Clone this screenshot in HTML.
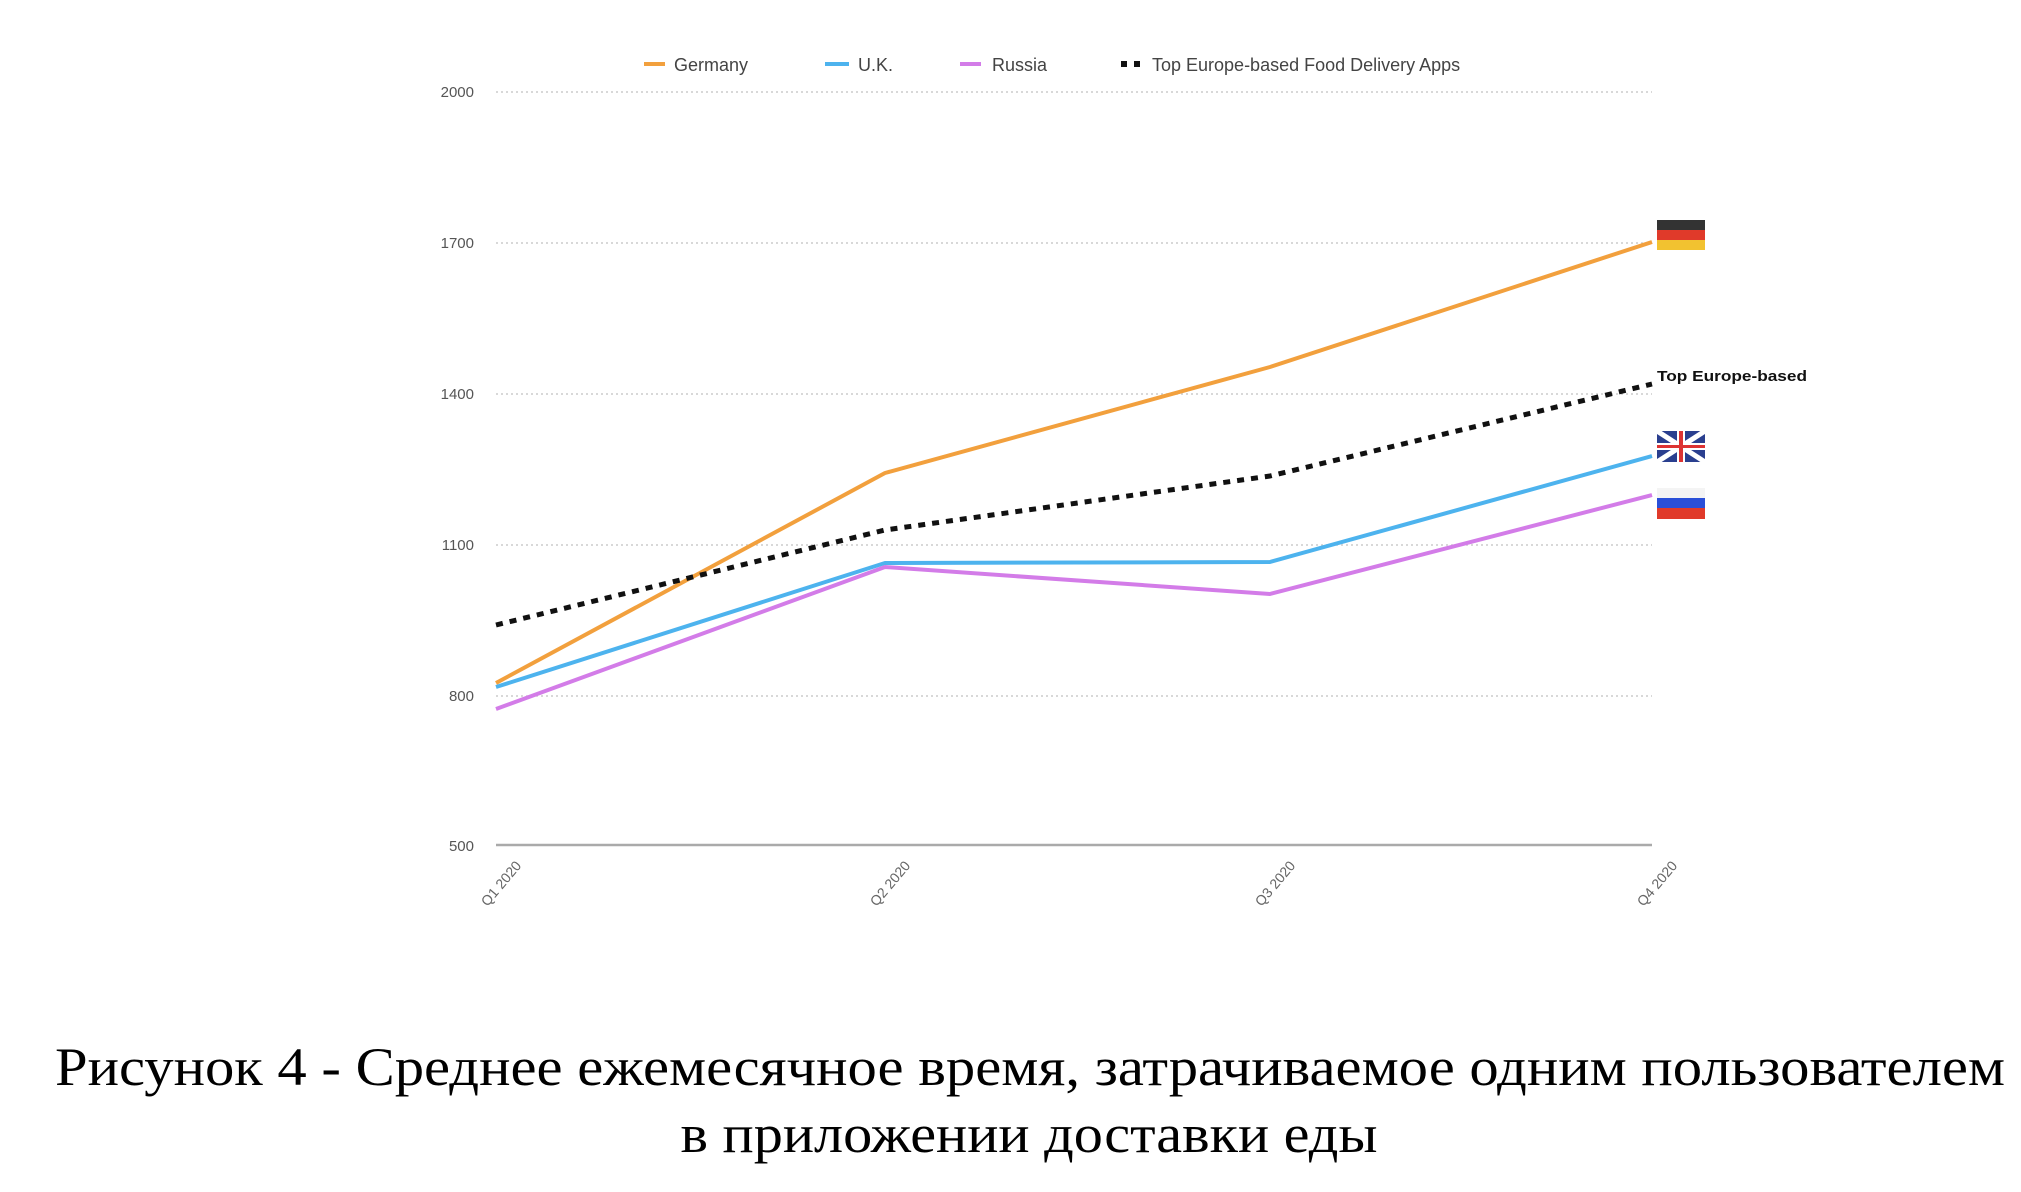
<!DOCTYPE html>
<html><head><meta charset="utf-8"><style>html,body{margin:0;padding:0;background:#fff}</style></head>
<body>
<svg width="2021" height="1187" viewBox="0 0 2021 1187" xmlns="http://www.w3.org/2000/svg" font-family="Liberation Sans, sans-serif">
<rect width="2021" height="1187" fill="#fff"/>
<g stroke="#ccc" stroke-width="1.5" stroke-dasharray="2,3">
<line x1="496" y1="92" x2="1652" y2="92"/>
<line x1="496" y1="243" x2="1652" y2="243"/>
<line x1="496" y1="394" x2="1652" y2="394"/>
<line x1="496" y1="545" x2="1652" y2="545"/>
<line x1="496" y1="696" x2="1652" y2="696"/>
</g>
<line x1="496" y1="845" x2="1652" y2="845" stroke="#aaa" stroke-width="2.5"/>
<g font-size="15" fill="#555" text-anchor="end">
<text x="474" y="97">2000</text><text x="474" y="248">1700</text><text x="474" y="399">1400</text>
<text x="474" y="550">1100</text><text x="474" y="701">800</text><text x="474" y="851">500</text>
</g>
<g font-size="14" fill="#666" text-anchor="end">
<text transform="translate(522,866) rotate(-50)">Q1 2020</text>
<text transform="translate(911,866) rotate(-50)">Q2 2020</text>
<text transform="translate(1296,866) rotate(-50)">Q3 2020</text>
<text transform="translate(1678,866) rotate(-50)">Q4 2020</text>
</g>
<g fill="none" stroke-width="4" stroke-linejoin="round">
<polyline stroke="#f2a03d" points="496,683 885,473 1270,367 1652,242"/>
<polyline stroke="#4db3ee" points="496,687 885,563 1270,562 1652,456"/>
<polyline stroke="#d37ce8" points="496,709 885,567 1270,594 1652,495"/>
<polyline stroke="#111" stroke-width="5" stroke-dasharray="7,7" points="496,625 885,530 1270,476 1652,384"/>
</g>
<g font-size="18" fill="#444">
<rect x="644" y="62" width="21" height="4" fill="#f2a03d"/><text x="674" y="71">Germany</text>
<rect x="825" y="62" width="24" height="4" fill="#4db3ee"/><text x="858" y="71">U.K.</text>
<rect x="960" y="62" width="21" height="4" fill="#d37ce8"/><text x="992" y="71">Russia</text>
<rect x="1121" y="61" width="6" height="6" fill="#111"/><rect x="1134" y="61" width="6" height="6" fill="#111"/>
<text x="1152" y="71">Top Europe-based Food Delivery Apps</text>
</g>
<g transform="translate(-8,0)">
<rect x="1665" y="220" width="48" height="10" fill="#333"/><rect x="1665" y="230" width="48" height="10" fill="#e03a2a"/><rect x="1665" y="240" width="48" height="10" fill="#f2c230"/>
<rect x="1665" y="431" width="48" height="31" fill="#2a3f8f"/>
<line x1="1665" y1="431" x2="1713" y2="462" stroke="#fff" stroke-width="5"/><line x1="1713" y1="431" x2="1665" y2="462" stroke="#fff" stroke-width="5"/>
<rect x="1665" y="443" width="48" height="7" fill="#fff"/><rect x="1685" y="431" width="8" height="31" fill="#fff"/>
<rect x="1665" y="445" width="48" height="3" fill="#d33"/><rect x="1687" y="431" width="4" height="31" fill="#d33"/>
<rect x="1665" y="488" width="48" height="10" fill="#f4f4f4"/><rect x="1665" y="498" width="48" height="10" fill="#2a4fd8"/><rect x="1665" y="508" width="48" height="11" fill="#e03a2a"/>
<text x="1665" y="381" font-size="15" font-weight="bold" fill="#111" textLength="150" lengthAdjust="spacingAndGlyphs">Top Europe-based</text>
</g>
<g font-family="Liberation Serif, serif" font-size="54" fill="#000" text-anchor="middle">
<text x="1030" y="1085" textLength="1950" lengthAdjust="spacingAndGlyphs">Рисунок 4 - Среднее ежемесячное время, затрачиваемое одним пользователем</text>
<text x="1029" y="1152" textLength="697" lengthAdjust="spacingAndGlyphs">в приложении доставки еды</text>
</g>
</svg>
</body></html>
